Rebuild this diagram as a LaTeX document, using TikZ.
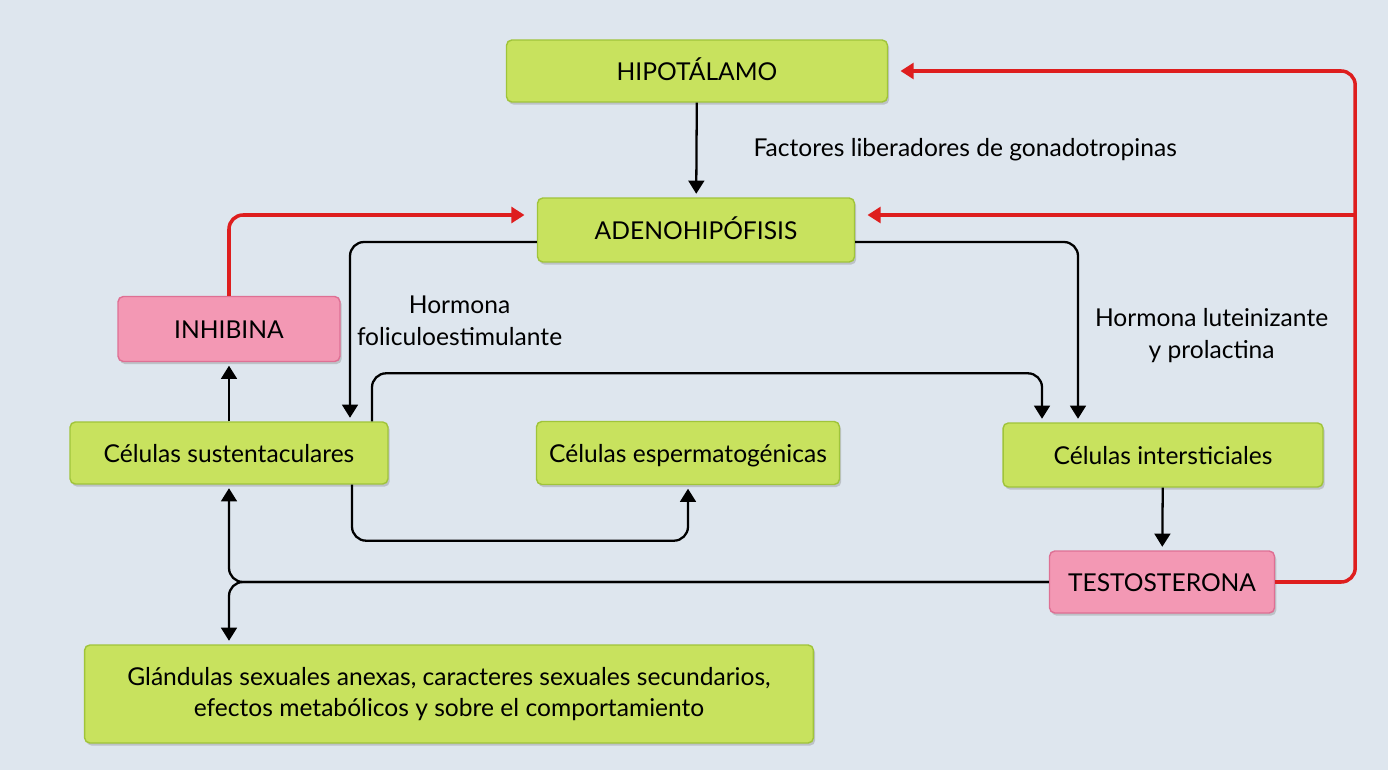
\documentclass[tikz,border=0pt]{standalone}
\usepackage{fontspec}
\setmainfont{Lato}
\usetikzlibrary{arrows.meta,calc,shadows}
\definecolor{pagebg}{RGB}{222,230,238}
\definecolor{boxgreen}{RGB}{200,226,94}
\definecolor{greenedge}{RGB}{160,196,58}
\definecolor{boxpink}{RGB}{243,152,180}
\definecolor{pinkedge}{RGB}{222,112,148}
\definecolor{redline}{RGB}{222,30,30}
\begin{document}
\begin{tikzpicture}[x=0.02cm, y=-0.02cm]
\tikzset{gbox/.style={rectangle, rounded corners=3pt, fill=boxgreen, draw=greenedge, line width=0.8pt, minimum height=1.24cm, text centered, align=center, font=\fontsize{14}{18}\selectfont, drop shadow={shadow xshift=1pt, shadow yshift=-1.5pt, opacity=0.35}}}
\tikzset{onebox/.style={gbox, text height=2.3ex, text depth=0.2ex}}
\tikzset{pbox/.style={onebox, fill=boxpink, draw=pinkedge}}
\tikzset{arrow/.style={-{Triangle[width=9pt,length=7.5pt]}, line width=1.3pt, rounded corners=8pt, shorten >=2pt}}
\tikzset{redarrow/.style={arrow, draw=redline, line width=2pt, shorten >=7pt}}
\tikzset{lbl/.style={font=\fontsize{14}{18}\selectfont, align=center}}

\fill[pagebg] (0,0) rectangle (1388,770);

\node[onebox, minimum width=7.62cm] (hipo) at (697,71) {HIPOTÁLAMO};
\node[onebox, minimum width=6.34cm, minimum height=1.28cm] (adeno) at (696,230) {ADENOHIPÓFISIS};
\node[pbox, minimum width=4.44cm, minimum height=1.3cm] (inhib) at (229,329) {INHIBINA};
\node[onebox, minimum width=6.36cm] (sust) at (229,453) {Células sustentaculares};
\node[onebox, minimum width=6.06cm, minimum height=1.26cm] (esperm) at (688,453) {Células espermatogénicas};
\node[onebox, minimum width=6.4cm, minimum height=1.28cm] (inter) at (1163,455) {Células intersticiales};
\node[pbox, minimum width=4.5cm] (testo) at (1162,582) {TESTOSTERONA};
\node[gbox, minimum width=14.58cm, minimum height=1.96cm] (gland) at (449,694) {Glándulas sexuales anexas, caracteres sexuales secundarios,\\efectos metabólicos y sobre el comportamiento};

% feedback (red)
\draw[redarrow] (inhib.north) |- ($(adeno.west)+(0,-15)$);
\draw[redarrow] (testo.east) -- ++(80,0) |- (hipo.east);
\draw[redarrow] ($(adeno.east)+(500,-15)$) -- ($(adeno.east)+(0,-15)$);

% stimulation (black)
\draw[arrow] (hipo) -- node[lbl, anchor=west, xshift=1cm] {Factores liberadores de gonadotropinas} (adeno);
\draw[arrow] ($(adeno.west)+(0,12)$) -| node[lbl, pos=0.72, right] {Hormona\\foliculoestimulante} ($(sust.north)+(121,0)$);
\draw[arrow] ($(adeno.east)+(0,12)$) -| node[lbl, pos=0.76, right, xshift=0.2cm] {Hormona luteinizante\\y prolactina} ($(inter.north)+(-85,0)$);
\draw[arrow] ($(sust.north)+(143,0)$) -- ++(0,-48) -| ($(inter.north)+(-121,0)$);
\draw[arrow] ($(sust.south)+(123,0)$) -- ++(0,56) -| (esperm.south);
\draw[arrow] (sust) -- (inhib);
\draw[arrow] (inter) -- (testo);
\draw[arrow] (testo.west) -| (sust.south);
\draw[arrow] (testo.west) -| (sust.south |- gland.north);
\end{tikzpicture}
\end{document}
